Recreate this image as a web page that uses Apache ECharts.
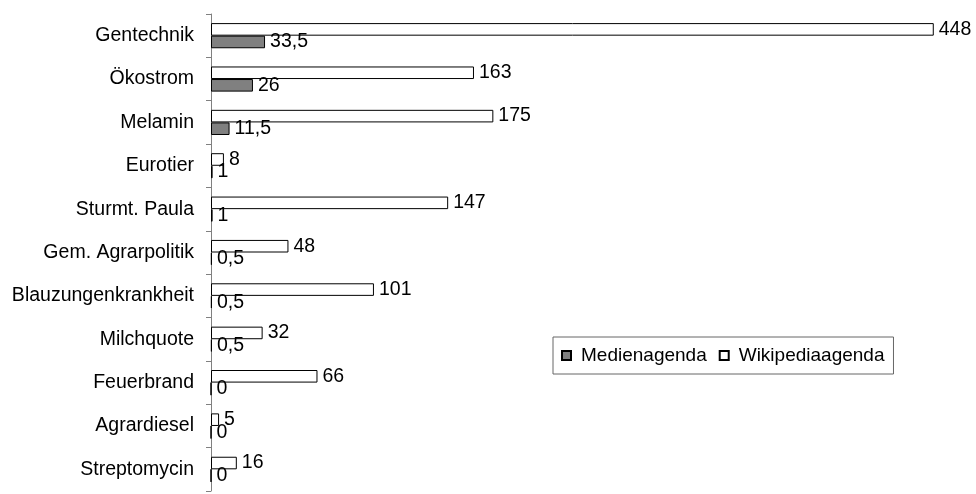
<!DOCTYPE html>
<html>
<head>
<meta charset="utf-8">
<script src="https://cdn.jsdelivr.net/npm/echarts@6/dist/echarts.min.js"></script>
<style>
  html, body { margin: 0; padding: 0; background: #fff; }
  #chart { width: 976px; height: 494px; }
</style>
</head>
<body>
<div id="chart"></div>
<script>
// Topics, top to bottom
var categories = ['Gentechnik', 'Ökostrom', 'Melamin', 'Eurotier', 'Sturmt. Paula',
  'Gem. Agrarpolitik', 'Blauzungenkrankheit', 'Milchquote', 'Feuerbrand',
  'Agrardiesel', 'Streptomycin'];

// Media coverage counts
var medienagenda = [33.5, 26, 11.5, 1, 1, 0.5, 0.5, 0.5, 0, 0, 0];

// Wikipedia page counts
var wikipediaagenda = [448, 163, 175, 8, 147, 48, 101, 32, 66, 5, 16];

var FONT = "'Liberation Sans', Arial, sans-serif";
var FS = 19.5;

// German decimal comma
function deNumber(p) {
  return String(p.value).replace('.', ',');
}

var chart = echarts.init(document.getElementById('chart'), null, { renderer: 'canvas' });
chart.setOption({
  animation: false,
  backgroundColor: '#ffffff',
  textStyle: { fontFamily: FONT },
  grid: { left: 211, right: 39, top: 14, bottom: 3, containLabel: false },
  xAxis: {
    type: 'value', min: 0, max: 450, show: false
  },
  yAxis: {
    type: 'category',
    data: categories,
    inverse: true,
    axisLine: { lineStyle: { color: '#808080', width: 1 } },
    axisTick: { show: true, length: 5, lineStyle: { color: '#808080' } },
    axisLabel: { color: '#000', fontSize: FS, fontFamily: FONT, margin: 17 },
    splitLine: { show: false }
  },
  legend: {
    data: ['Medienagenda', 'Wikipediaagenda'],
    left: 553, top: 337,
    orient: 'horizontal',
    icon: 'rect',
    itemWidth: 9, itemHeight: 9, itemGap: 12,
    padding: [9, 9, 9, 8],
    borderColor: '#666', borderWidth: 1,
    textStyle: { color: '#000', fontSize: 19, fontFamily: FONT, padding: [0, 0, 0, 5] }
  },
  series: [
    {
      name: 'Wikipediaagenda', type: 'bar', data: wikipediaagenda,
      barGap: '0%', barCategoryGap: '42%',
      itemStyle: { color: '#ffffff', borderColor: '#000', borderWidth: 1 },
      label: { show: true, position: 'right', distance: 5, color: '#000', fontSize: FS, fontFamily: FONT, formatter: deNumber }
    },
    {
      name: 'Medienagenda', type: 'bar', data: medienagenda,
      barGap: '0%', barCategoryGap: '42%',
      itemStyle: { color: '#808080', borderColor: '#000', borderWidth: 1 },
      label: { show: true, position: 'right', distance: 5, color: '#000', fontSize: FS, fontFamily: FONT, formatter: deNumber }
    }
  ]
});
</script>
</body>
</html>
